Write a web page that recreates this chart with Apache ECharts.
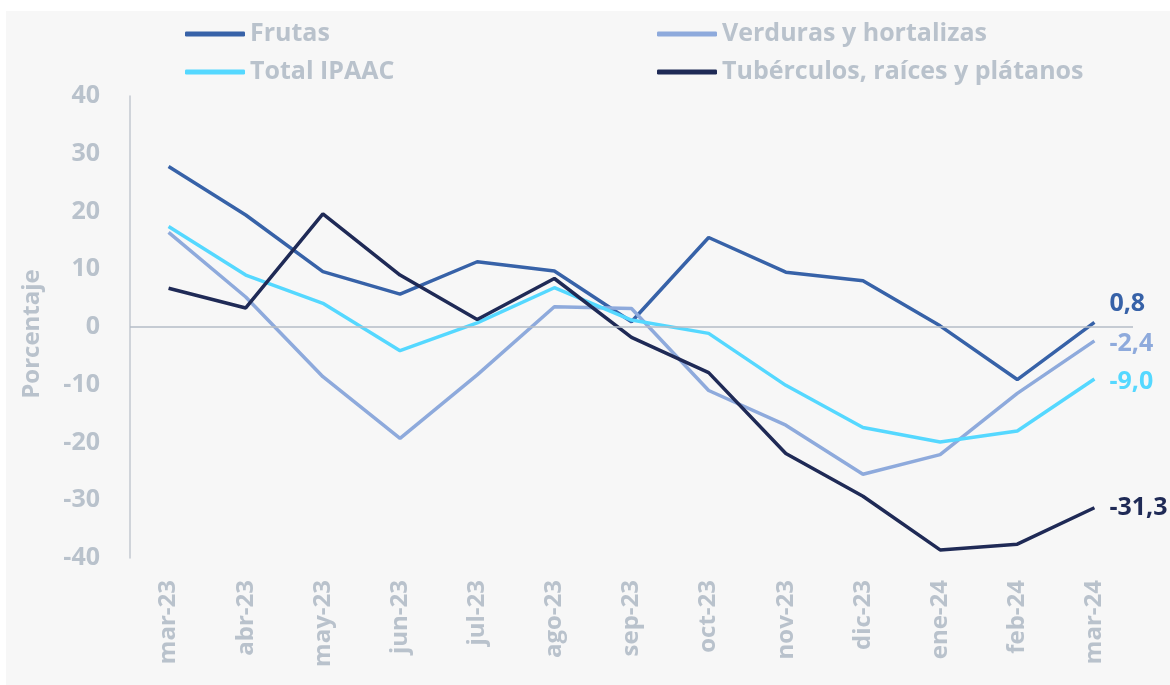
<!DOCTYPE html>
<html>
<head>
<meta charset="utf-8">
<script src="https://cdn.jsdelivr.net/npm/echarts@6/dist/echarts.min.js"></script>
<style>
  html, body { margin: 0; padding: 0; background: #ffffff; }
  #chart { width: 1170px; height: 685px; }
</style>
</head>
<body>
<div id="chart"></div>
<script>
// meses
const months = ['mar-23', 'abr-23', 'may-23', 'jun-23', 'jul-23', 'ago-23', 'sep-23',
  'oct-23', 'nov-23', 'dic-23', 'ene-24', 'feb-24', 'mar-24']
// variación anual (%)
const frutas = [27.8, 19.4, 9.6, 5.7, 11.3, 9.7, 0.9, 15.5, 9.5, 8.0, 0.2, -9.1, 0.8]
const verduras = [16.4, 5.2, -8.6, -19.3, -8.3, 3.5, 3.2, -11.0, -17.0, -25.5, -22.1, -11.5, -2.4]
const totalIpaac = [17.4, 9.0, 4.1, -4.1, 0.7, 6.8, 1.2, -1.1, -10.1, -17.4, -19.9, -18.0, -9.0]
const tuberculos = [6.7, 3.3, 19.6, 9.0, 1.3, 8.4, -1.8, -7.9, -21.9, -29.3, -38.6, -37.6, -31.3]
const yTicks = [-40, -30, -20, -10, 0, 10, 20, 30, 40]

const grey = '#b9c2cc'
const fontFam = '"Open Sans", Lato, sans-serif'

const chart = echarts.init(document.getElementById('chart'))

// etiqueta al final de cada serie
function endLbl(color, offset) {
  return {
    show: true,
    distance: 15,
    offset: offset || [0, 0],
    color: color,
    fontSize: 25,
    fontWeight: 'bold',
    fontFamily: fontFam,
    formatter: p => p.value.toFixed(1).replace('.', ',')
  }
}

function mkSeries(name, data, color, offset) {
  return {
    name: name,
    type: 'line',
    data: data,
    showSymbol: false,
    symbol: 'none',
    lineStyle: { color: color, width: 3.5 },
    itemStyle: { color: color },
    endLabel: endLbl(color, offset),
    animation: false
  }
}

const legendText = {
  color: grey,
  fontSize: 25,
  fontWeight: 'bold',
  fontFamily: fontFam,
  lineHeight: 30
}

const option = {
  backgroundColor: '#ffffff',
  animation: false,
  graphic: [{
    type: 'rect',
    z: -10,
    shape: { x: 6, y: 11, width: 1164, height: 674 },
    style: { fill: '#f7f7f7' },
    silent: true
  }],
  legend: [{
    left: 185,
    top: 19,
    padding: 0,
    orient: 'vertical',
    itemGap: 8,
    itemWidth: 60,
    itemHeight: 5,
    icon: 'roundRect',
    textStyle: legendText,
    data: ['Frutas', 'Total IPAAC']
  }, {
    left: 657,
    top: 19,
    padding: 0,
    orient: 'vertical',
    itemGap: 8,
    itemWidth: 60,
    itemHeight: 5,
    icon: 'roundRect',
    textStyle: legendText,
    data: ['Verduras y hortalizas', 'Tubérculos, raíces y plátanos']
  }],
  grid: {
    left: 130,
    right: 37,
    top: 96,
    bottom: 127
  },
  xAxis: {
    type: 'category',
    data: months,
    axisLine: { show: false },
    axisTick: { show: false },
    axisLabel: {
      rotate: 90,
      margin: 22,
      color: grey,
      fontSize: 24,
      fontWeight: 'bold',
      fontFamily: fontFam
    }
  },
  yAxis: {
    type: 'value',
    min: yTicks[0],
    max: yTicks[yTicks.length - 1],
    interval: 10,
    name: 'Porcentaje',
    nameLocation: 'middle',
    nameGap: 86,
    nameTextStyle: {
      color: grey,
      fontSize: 24,
      fontWeight: 'bold',
      fontFamily: fontFam,
      padding: [0, 14, 0, 0]
    },
    axisLine: { show: true, lineStyle: { color: '#c3c9d1', width: 1.5 } },
    axisTick: { show: false },
    splitLine: { show: false },
    axisLabel: {
      margin: 30,
      color: grey,
      fontSize: 25,
      fontWeight: 'bold',
      fontFamily: fontFam
    }
  },
  series: [
    Object.assign(mkSeries('Frutas', frutas, '#3762a8', [0, -19]), {
      markLine: {
        silent: true,
        symbol: 'none',
        label: { show: false },
        lineStyle: { color: '#b4bcc7', width: 1.5, type: 'solid' },
        data: [{ yAxis: 0 }]
      }
    }),
    mkSeries('Verduras y hortalizas', verduras, '#8eaadc', [0, 3]),
    mkSeries('Total IPAAC', totalIpaac, '#55d8ff', [0, 3]),
    mkSeries('Tubérculos, raíces y plátanos', tuberculos, '#1f2a56')
  ]
}

chart.setOption(option)
</script>
</body>
</html>
